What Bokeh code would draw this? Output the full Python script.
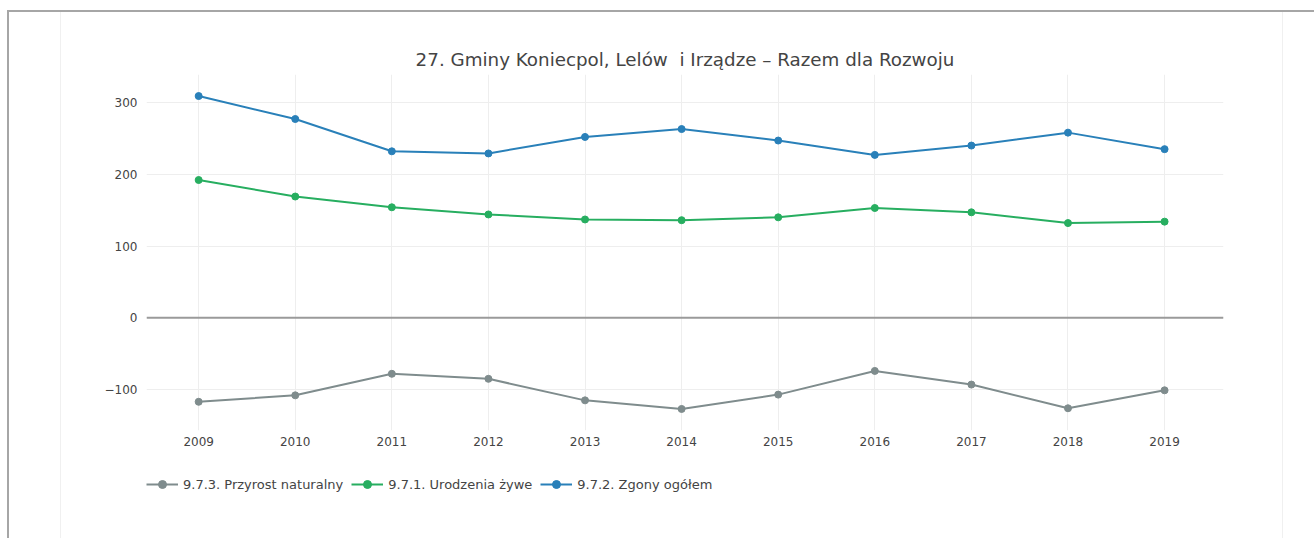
from bokeh.plotting import figure
from bokeh.layouts import column
from bokeh.models import (Range1d, FixedTicker, CustomJSTickFormatter, Span,
                          Legend, LegendItem)
from bokeh.embed import file_html
from bokeh.resources import INLINE

# ---- data ----
years = [2009, 2010, 2011, 2012, 2013, 2014, 2015, 2016, 2017, 2018, 2019]
przyrost = [-117, -108, -78, -85, -115, -127, -107, -74, -93, -126, -101]
urodzenia = [192, 169, 154, 144, 137, 136, 140, 153, 147, 132, 134]
zgony = [309, 277, 232, 229, 252, 263, 247, 227, 240, 258, 235]
y_ticks = [-100, 0, 100, 200, 300]
series_names = ["9.7.3. Przyrost naturalny", "9.7.1. Urodzenia żywe", "9.7.2. Zgony ogółem"]
title_text = "27. Gminy Koniecpol, Lelów\u00a0 i Irządze – Razem dla Rozwoju"

colors = ["#7f8c8d", "#27ae60", "#2980b9"]
FONT = "DejaVu Sans"
TXT = "#444444"
series = [przyrost, urodzenia, zgony]

# ---------------- main chart ----------------
p = figure(frame_width=1077, frame_height=356, output_backend="svg", toolbar_location=None,
           x_range=Range1d(2008.46, 2019.61), y_range=Range1d(-157, 339),
           min_border_left=146, min_border_right=91, min_border_top=74,
           min_border_bottom=24, title=title_text)

p.outline_line_color = None
p.background_fill_color = "white"
p.border_fill_alpha = 0

p.title.align = "center"
p.title.offset = -3
p.title.text_font = FONT
p.title.text_font_size = "18.3px"
p.title.text_font_style = "normal"
p.title.text_color = TXT
try:
    p.title.standoff = 10
except Exception:
    pass

for ax in (p.xaxis[0], p.yaxis[0]):
    ax.axis_line_color = None
    ax.major_tick_line_color = None
    ax.minor_tick_line_color = None
    ax.major_tick_out = 0
    ax.major_tick_in = 0
    ax.major_label_text_font = FONT
    ax.major_label_text_font_size = "12px"
    ax.major_label_text_color = TXT

p.xaxis.ticker = FixedTicker(ticks=years)
p.yaxis.ticker = FixedTicker(ticks=y_ticks)
p.xaxis.major_label_standoff = 6
p.yaxis.major_label_standoff = 9
p.yaxis.formatter = CustomJSTickFormatter(
    code="return tick < 0 ? '\\u2212' + Math.abs(tick) : String(tick);")

p.xgrid.ticker = FixedTicker(ticks=years)
p.ygrid.ticker = FixedTicker(ticks=y_ticks)
p.xgrid.grid_line_color = "#eeeeee"
p.ygrid.grid_line_color = "#eeeeee"

p.add_layout(Span(location=0, dimension="width", line_color="#9a9a9a", line_width=2))

for vals, c in zip(series, colors):
    p.line(years, vals, line_color=c, line_width=2)
    p.scatter(years, vals, fill_color=c, line_color=c, size=7)

# ---------------- legend strip below the chart ----------------
# same series drawn again but outside this strip's visible range, so only
# their legend entries show
q = figure(frame_width=1077, frame_height=84, output_backend="svg", toolbar_location=None,
           x_range=Range1d(0, 1), y_range=Range1d(0, 1),
           min_border_left=146, min_border_right=91, min_border_top=0,
           min_border_bottom=0)
q.axis.visible = False
q.grid.visible = False
q.outline_line_color = None
q.background_fill_alpha = 0
q.border_fill_alpha = 0

items = []
for name, vals, c in zip(series_names, series, colors):
    ln = q.line(years, vals, line_color=c, line_width=2)
    sc = q.scatter(years, vals, fill_color=c, line_color=c, size=7)
    items.append(LegendItem(label=name, renderers=[ln, sc]))

legend = Legend(items=items, orientation="horizontal", location=(0, 44),
                padding=0, margin=0, spacing=8, glyph_width=32, glyph_height=20,
                label_height=20, label_standoff=5, border_line_color=None,
                background_fill_alpha=0, label_text_font=FONT,
                label_text_font_size="13px", label_text_color=TXT)
q.add_layout(legend)

layout = column(p, q, spacing=0)
# page container border and faint guide lines (decoration behind the canvases)
layout.styles = {
    "background": (
        "linear-gradient(#a6a6a6,#a6a6a6) 7px 10px / 2px 100% no-repeat, "
        "linear-gradient(#a6a6a6,#a6a6a6) 7px 10px / 100% 2px no-repeat, "
        "linear-gradient(#f0f0f0,#f0f0f0) 60px 12px / 1px 100% no-repeat, "
        "linear-gradient(#f0f0f0,#f0f0f0) 1282px 12px / 1px 100% no-repeat, "
        "white"
    )
}

open("out.html", "w", encoding="utf-8").write(file_html(layout, INLINE))
